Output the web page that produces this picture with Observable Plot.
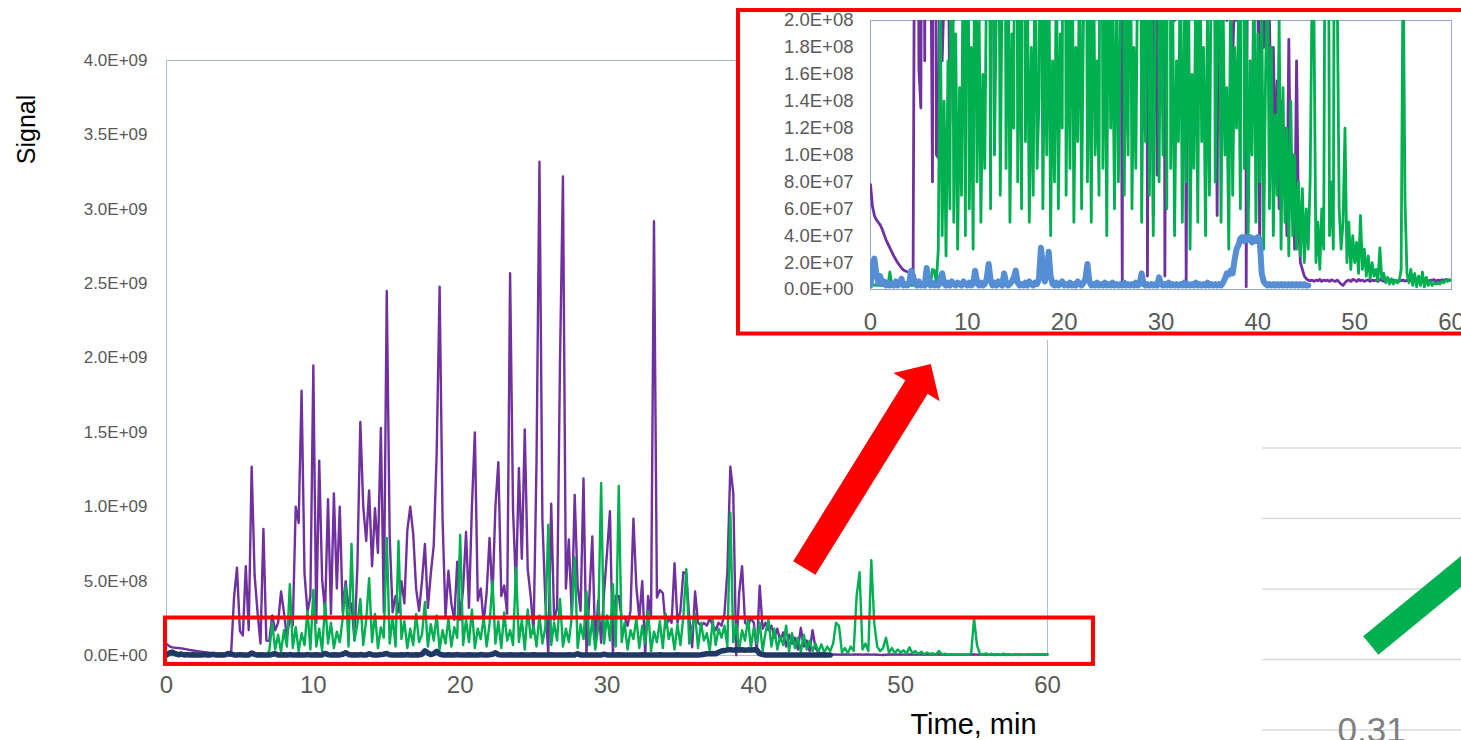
<!DOCTYPE html>
<html>
<head>
<meta charset="utf-8">
<script src="https://cdn.jsdelivr.net/npm/d3@7"></script>
<script src="https://cdn.jsdelivr.net/npm/@observablehq/plot@0.6"></script>
<style>
  html, body { margin: 0; padding: 0; background: #fff; }
  #page { position: relative; width: 1461px; height: 740px; overflow: hidden; background: #fff; }
  #page > * { position: absolute; }
</style>
</head>
<body>
<div id="page"></div>
<script>
// Chromatogram traces sampled every 0.2 min, starting at t = 0.
const T_STEP = 0.2;

// Purple trace, units of 1e7 counts (0 – 60 min).
const purpleTrace = [
  7.8, 6.2, 5.5, 5.2, 5.0, 4.8, 4.5, 4.1, 3.7, 3.4,          // 0
  3.1, 2.8, 2.5, 2.25, 2.0, 1.8, 1.6, 1.45, 1.38, 1.32,       // 2
  1.28, 1.25, 1.25, 39, 59, 16.4, 13.5, 60, 17, 127,          // 4
  54, 29, 8, 85, 10, 9.8, 27, 17, 22, 43,                     // 6
  29, 12.4, 25, 20, 100, 89, 178, 55, 29, 40,                 // 8
  195, 22, 131, 51, 29, 105, 28, 109, 45, 100,                // 10
  29, 50, 32, 35, 10.2, 60, 157, 100, 77, 111,                // 12
  60, 99, 69, 153, 29, 245, 80, 29, 40, 29,                   // 14
  50, 35, 84, 100, 82, 45, 30, 50, 75, 32,                    // 16
  55, 74, 136, 248, 92, 26, 57, 35, 24, 63,                   // 18
  24, 45, 83, 32, 100, 150, 37, 45, 22, 42,                   // 20
  79, 39, 100, 130, 40, 47, 28, 257, 98, 45,                  // 22
  126, 65, 152, 58, 40, 15, 130, 332, 91, 37,                 // 24
  0.5, 102, 24, 32, 198, 322, 45, 78, 26, 108,                // 26
  47, 30, 119, 1, 40, 80, 5.5, 37, 8.5, 42,                   // 28
  69, 97, 1, 40, 40, 25, 26, 20, 30, 92,                      // 30
  46, 25, 50, 0.2, 40, 25, 292, 39, 44, 42,                   // 32
  19, 25, 22, 62, 22, 30, 56, 55, 25, 5.5,                    // 34
  43, 22, 20, 22, 20, 25, 20, 17, 22, 20,                     // 36
  28, 57, 127, 109, 0.2, 42, 60, 22, 20, 25,                  // 38
  22, 2.3, 47, 18, 22, 17, 20, 12, 18, 10,                    // 40
  15.5, 6, 14, 8, 12, 4, 18.6, 6, 10, 3,                      // 42
  17, 5, 2, 1.5, 1, 0.8, 0.7, 0.65, 0.7, 0.6,                 // 44
  0.7, 0.65, 0.75, 0.6, 0.7, 0.65, 0.7, 0.6, 0.72, 0.65,      // 46
  0.6, 0.7, 0.55, 0.4, 0.3, 0.5, 0.65, 0.7, 0.6, 0.75,        // 48
  0.7, 0.6, 0.75, 0.65, 0.7, 0.6, 0.68, 0.72, 0.6, 0.7,       // 50
  0.65, 0.7, 0.6, 0.75, 0.68, 0.62, 0.7, 0.65, 0.72, 0.6,     // 52
  0.7, 0.66, 0.6, 0.72, 0.65, 0.7, 0.62, 0.68, 0.7, 0.65,     // 54
  0.72, 0.6, 0.68, 0.75, 0.62, 0.7, 0.66, 0.72, 0.6, 0.7,     // 56
  0.68, 0.74, 0.62, 0.7, 0.66, 0.72, 0.68, 0.75, 0.7, 0.72,   // 58
  0.7                                                          // 60
];

// Green trace, units of 1e7 counts (0 – 60 min).
const greenTrace = [
  0.3, 0.3, 0.35, 0.3, 0.3, 0.3, 0.35, 0.3, 0.3, 0.3,         // 0
  1.3, 0.3, 0.3, 0.3, 0.3, 0.3, 0.3, 0.35, 0.3, 0.3,          // 2
  0.3, 0.3, 0.3, 0.3, 0.3, 0.3, 0.3, 0.3, 0.3, 0.3,           // 4
  0.3, 0.4, 1.5, 1.4, 0.5, 3, 22, 4, 14, 2.5,                 // 6
  17, 6, 48, 5, 19, 3, 15, 7, 30, 4,                          // 8
  44, 6, 18, 3, 35, 8, 22, 5, 16, 9,                          // 10
  25, 47, 6, 75, 10, 21, 38, 7, 24, 52,                       // 12
  9, 28, 5, 19, 12, 79, 8, 26, 6, 77,                         // 14
  11, 23, 5, 18, 7, 28, 9, 14, 36, 6,                         // 16
  21, 10, 27, 4, 17, 8, 25, 6, 19, 12,                        // 18
  81, 7, 24, 9, 31, 5, 18, 11, 26, 6,                         // 20
  21, 50, 8, 23, 5, 29, 10, 17, 7, 59,                        // 22
  9, 24, 4, 31, 12, 20, 6, 27, 8, 19,                         // 24
  88, 7, 22, 10, 38, 6, 18, 9, 26, 66,                        // 26
  5, 21, 11, 43, 7, 24, 4, 19, 116, 8,                        // 28
  27, 10, 48, 6, 114, 9, 22, 4, 17, 11,                       // 30
  25, 5, 20, 8, 30, 3, 16, 9, 23, 5,                          // 32
  28, 11, 18, 4, 21, 7, 26, 58, 8, 19,                        // 34
  28, 5, 22, 10, 15, 3, 24, 7, 18, 12,                        // 36
  20, 6, 96, 9, 21, 4, 17, 10, 25, 5,                         // 38
  19, 8, 22, 3, 16, 24, 6, 18, 4, 13,                         // 40
  7, 20, 3, 15, 5, 12, 2.5, 14, 4, 10,                        // 42
  3, 8, 2.5, 7.5, 2, 6, 3, 8, 22, 20,                         // 44
  2, 5, 1.5, 6, 3, 40, 56, 4, 8, 3,                           // 46
  64, 22, 6, 3, 5, 12, 2, 5, 1.5, 4,                          // 48
  2, 3.5, 1.2, 5.5, 1.5, 3, 1, 2.5, 0.8, 2,                   // 50
  1, 1.5, 0.6, 3.1, 0.8, 1.2, 0.5, 0.9, 0.4, 0.8,             // 52
  0.4, 0.7, 0.5, 0.6, 1.5, 25, 6.6, 1.2, 0.5, 1.5,            // 54
  0.3, 1.2, 0.2, 1.0, 0.3, 1.3, 0.2, 0.9, 0.3, 0.6,           // 56
  0.3, 0.5, 0.4, 0.5, 0.4, 0.6, 0.5, 0.7, 0.6, 0.7,           // 58
  0.7                                                          // 60
];

// Blue trace, units of 1e6 counts (0 – 45.2 min).
const blueTrace = [
  3, 18, 23, 12, 5, 10, 4, 6, 3, 5,            // 0
  3, 4, 3, 6, 3, 4, 8, 3, 4, 3,                // 2
  5, 14, 10, 4, 3, 6, 3, 4, 3, 16,             // 4
  8, 3, 5, 3, 4, 3, 8, 12, 4, 3,               // 6
  5, 3, 6, 4, 3, 5, 4, 3, 6, 4,                // 8
  3, 5, 3, 4, 14, 6, 3, 5, 3, 4,               // 10
  8, 19, 7, 3, 5, 3, 6, 4, 3, 12,              // 12
  5, 3, 4, 6, 9, 14, 5, 3, 4, 3,               // 14
  5, 3, 6, 4, 3, 5, 4, 8, 31, 18,              // 16
  6, 12, 28, 10, 4, 3, 5, 3, 4, 6,             // 18
  3, 4, 3, 5, 3, 4, 3, 6, 4, 3,                // 20
  5, 8, 19, 6, 3, 4, 3, 5, 3, 4,               // 22
  3, 5, 3, 4, 3, 5, 3, 4, 3, 4,                // 24
  3, 5, 3, 4, 3, 4, 3, 5, 3, 4,                // 26
  12, 4, 3, 4, 3, 4, 3, 4, 3, 9,               // 28
  4, 3, 4, 3, 5, 3, 4, 3, 4, 3,                // 30
  4, 3, 5, 3, 4, 3, 4, 3, 5, 3,                // 32
  4, 3, 4, 3, 5, 3, 4, 3, 4, 3,                // 34
  4, 3, 5, 8, 12, 11, 14, 12, 22, 30,          // 36
  33, 38, 39, 36, 39, 37, 39, 35, 38, 36,      // 38
  39, 37, 12, 6, 4, 3, 4, 3, 4, 3,             // 40
  4, 3, 4, 3, 4, 3, 4, 3, 4, 3,                // 42
  4, 3, 4, 3, 4, 3, 3                          // 44
];

// Axis ticks
const timeTicks = [0, 10, 20, 30, 40, 50, 60];
const mainSignalTicks = [0, 5e8, 1e9, 1.5e9, 2e9, 2.5e9, 3e9, 3.5e9, 4e9];
const insetSignalTicks = [0, 2e7, 4e7, 6e7, 8e7, 1e8, 1.2e8, 1.4e8, 1.6e8, 1.8e8, 2e8];

// Annotations
const zoomBox = [{t1: -0.07, t2: 63.13, s1: -0.06e9, s2: 0.252e9}];
const insetBox = [{t1: -13.63, t2: 64, s1: -0.331e8, s2: 2.074e8}];
const zoomArrow = [
  {t: 42.68, s: 0.634e9}, {t: 50.32, s: 1.851e9}, {t: 49.51, s: 1.900e9},
  {t: 52.05, s: 1.960e9}, {t: 52.65, s: 1.710e9}, {t: 51.84, s: 1.759e9},
  {t: 44.19, s: 0.543e9}
];

// Neighbouring panel on the right
const gridLevels = [0, 1, 2, 3, 4];
const neighbourSegment = [{x: 0.544, y: 1.199}, {x: 1.296, y: 2.94}];
const neighbourLabel = [{x: 0.548, y: 0.18, text: "0.31"}];

const PURPLE = "#7030a0", GREEN = "#00b050", NAVY = "#1f3864", LIGHT_BLUE = "#558ed5";
const RED = "#ff0000", TICK_GREY = "#595959";
const FONT = "'Liberation Sans', Arial, sans-serif";

const toRows = (values, unit) => values.map((v, i) => ({t: i * T_STEP, signal: v * unit}));
const purple = toRows(purpleTrace, 1e7);
const green = toRows(greenTrace, 1e7);
const blue = toRows(blueTrace, 1e6);

function sci(v) {
  if (v === 0) return "0.0E+00";
  const e = Math.floor(Math.log10(v) + 1e-9);
  return (v / Math.pow(10, e)).toFixed(1) + "E+" + String(e).padStart(2, "0");
}

const page = document.getElementById("page");

// Full chromatogram
const main = Plot.plot({
  width: 1461, height: 740,
  marginLeft: 166, marginRight: 414, marginTop: 60, marginBottom: 85,
  style: {fontFamily: FONT, background: "transparent", overflow: "visible"},
  x: {domain: [0, 60]},
  y: {domain: [0, 4e9]},
  marks: [
    Plot.frame({stroke: "#a9bcdc", strokeWidth: 1}),
    Plot.line(purple, {x: "t", y: "signal", stroke: PURPLE, strokeWidth: 2.4, strokeLinejoin: "round"}),
    Plot.line(green, {x: "t", y: "signal", stroke: GREEN, strokeWidth: 2.4, strokeLinejoin: "round"}),
    Plot.line(blue, {x: "t", y: "signal", stroke: NAVY, strokeWidth: 5.5, strokeLinejoin: "round"}),
    Plot.axisX({ticks: timeTicks, tickSize: 0, tickPadding: 20, fontSize: 24, color: TICK_GREY, tickFormat: d => String(d), label: null}),
    Plot.axisY({ticks: mainSignalTicks, tickSize: 0, tickPadding: 19, fontSize: 17, color: TICK_GREY, tickFormat: sci, label: null}),
    Plot.text(["Signal"], {frameAnchor: "top-left", dx: -140, dy: 69, rotate: -90, fontSize: 25, fill: "#000", textAnchor: "middle", lineAnchor: "middle"}),
    Plot.text(["Time, min"], {frameAnchor: "bottom-left", dx: 807, dy: 69, fontSize: 29, fill: "#000", textAnchor: "middle", lineAnchor: "middle"}),
    Plot.rect(zoomBox, {x1: "t1", x2: "t2", y1: "s1", y2: "s2", fill: "none", stroke: RED, strokeWidth: 4}),
    Plot.line(zoomArrow, {x: "t", y: "s", fill: RED, stroke: "none"})
  ]
});
main.style.left = "0px";
main.style.top = "0px";
page.appendChild(main);

// Zoomed view of the baseline region
const inset = Plot.plot({
  width: 725, height: 340,
  marginLeft: 134, marginRight: 10, marginTop: 20, marginBottom: 51,
  style: {fontFamily: FONT, background: "#fff", overflow: "visible"},
  x: {domain: [0, 60]},
  y: {domain: [0, 2e8]},
  marks: [
    Plot.frame({stroke: "#8fa8d8", strokeWidth: 1}),
    Plot.line(purple, {x: "t", y: "signal", stroke: PURPLE, strokeWidth: 2.8, strokeLinejoin: "round", clip: true}),
    Plot.line(green, {x: "t", y: "signal", stroke: GREEN, strokeWidth: 2.8, strokeLinejoin: "round", clip: true}),
    Plot.line(blue, {x: "t", y: "signal", stroke: LIGHT_BLUE, strokeWidth: 6, strokeLinejoin: "round", clip: true}),
    Plot.axisX({ticks: timeTicks, tickSize: 0, tickPadding: 23, fontSize: 24, color: TICK_GREY, tickFormat: d => String(d), label: null}),
    Plot.axisY({ticks: insetSignalTicks, tickSize: 0, tickPadding: 17, fontSize: 18.5, color: TICK_GREY, tickFormat: sci, label: null}),
    Plot.rect(insetBox, {x1: "t1", x2: "t2", y1: "s1", y2: "s2", fill: "none", stroke: RED, strokeWidth: 4})
  ]
});
inset.style.left = "736px";
inset.style.top = "0px";
page.appendChild(inset);

// Edge of the neighbouring panel
const neighbour = Plot.plot({
  width: 199, height: 340,
  marginLeft: 0, marginRight: 0, marginTop: 47.5, marginBottom: 10.5,
  style: {fontFamily: FONT, background: "transparent", overflow: "visible"},
  x: {domain: [0, 1], axis: null},
  y: {domain: [0, 4], axis: null},
  marks: [
    Plot.ruleY(gridLevels, {stroke: "#d9d9d9", strokeWidth: 1.5}),
    Plot.line(neighbourSegment, {x: "x", y: "y", stroke: GREEN, strokeWidth: 24, strokeLinecap: "butt"}),
    Plot.text(neighbourLabel, {x: "x", y: "y", text: "text", fontSize: 35, fill: "#7f7f7f", textAnchor: "middle", lineAnchor: "top"})
  ]
});
neighbour.style.left = "1262px";
neighbour.style.top = "400px";
page.appendChild(neighbour);
</script>
</body>
</html>
